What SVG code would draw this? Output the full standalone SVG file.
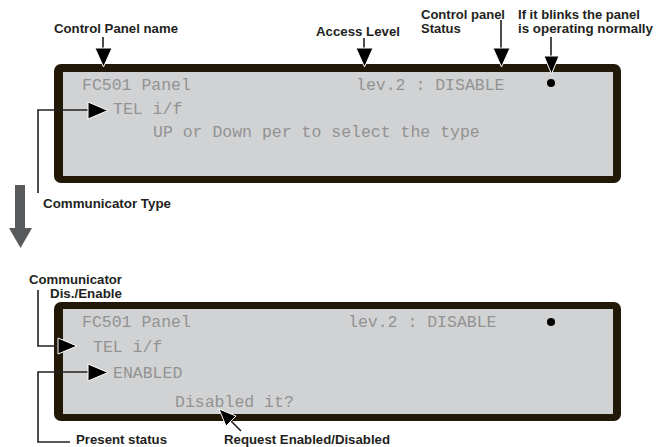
<svg xmlns="http://www.w3.org/2000/svg" width="666" height="447" viewBox="0 0 666 447">
<style>
.lbl{font-family:"Liberation Sans",Arial,sans-serif;font-weight:bold;font-size:13px;fill:#231f20}
.lcd{font-family:"Liberation Mono","DejaVu Sans Mono",monospace;font-size:16.5px;fill:#929292}
.frame{fill:#221808}
.screen{fill:#d1d2d4}
.ln{fill:none;stroke:#231f20;stroke-width:1.6}
.head{fill:#000;stroke:#fff;stroke-width:1}
</style>
<rect width="666" height="447" fill="#fff"/>

<g id="panel1">
  <rect class="frame" x="54" y="64" width="567" height="119" rx="7"/>
  <rect class="screen" x="63" y="72" width="550" height="104"/>
  <text class="lcd" x="82" y="90">FC501 Panel</text>
  <text class="lcd" x="356" y="90">lev.2 : DISABLE</text>
  <circle cx="551" cy="83" r="4" fill="#000"/>
  <text class="lcd" x="113" y="114">TEL i/f</text>
  <text class="lcd" x="153" y="137">UP or Down per to select the type</text>
</g>

<g id="panel2">
  <rect class="frame" x="54" y="302" width="567" height="119" rx="7"/>
  <rect class="screen" x="63" y="309" width="550" height="105"/>
  <text class="lcd" x="82" y="327">FC501 Panel</text>
  <text class="lcd" x="348" y="327">lev.2 : DISABLE</text>
  <circle cx="551" cy="322" r="4" fill="#000"/>
  <text class="lcd" x="93" y="352">TEL i/f</text>
  <text class="lcd" x="113" y="378">ENABLED</text>
  <text class="lcd" x="175" y="407">Disabled it?</text>
</g>

<g id="labels">
  <text class="lbl" x="54" y="33" textLength="124" lengthAdjust="spacingAndGlyphs">Control Panel name</text>
  <text class="lbl" x="316" y="36" textLength="84" lengthAdjust="spacingAndGlyphs">Access Level</text>
  <text class="lbl" x="421" y="19" textLength="84" lengthAdjust="spacingAndGlyphs">Control panel</text>
  <text class="lbl" x="421" y="33">Status</text>
  <text class="lbl" x="518" y="19" textLength="122" lengthAdjust="spacingAndGlyphs">If it blinks the panel</text>
  <text class="lbl" x="518" y="33" textLength="135" lengthAdjust="spacingAndGlyphs">is operating normally</text>
  <text class="lbl" x="43" y="208" textLength="128" lengthAdjust="spacingAndGlyphs">Communicator Type</text>
  <text class="lbl" x="29" y="284" textLength="93" lengthAdjust="spacingAndGlyphs">Communicator</text>
  <text class="lbl" x="50" y="298" textLength="72" lengthAdjust="spacingAndGlyphs">Dis./Enable</text>
  <text class="lbl" x="76" y="444" textLength="91" lengthAdjust="spacingAndGlyphs">Present status</text>
  <text class="lbl" x="224" y="444" textLength="166" lengthAdjust="spacingAndGlyphs">Request Enabled/Disabled</text>
</g>

<g id="connectors">
  <line class="ln" x1="103" y1="37" x2="103" y2="50"/>
  <polygon class="head" points="95,48 112,48 103.5,67"/>
  <line class="ln" x1="364" y1="38" x2="364" y2="50"/>
  <polygon class="head" points="356,48 373,48 364.5,67"/>
  <line class="ln" x1="501" y1="20" x2="501" y2="50"/>
  <polygon class="head" points="493,48 510,48 501.5,67"/>
  <line class="ln" x1="551" y1="37" x2="551" y2="58"/>
  <polygon class="head" points="544,56 559,56 551.5,74"/>

  <polyline class="ln" points="38,193 38,110 90,110"/>
  <polygon class="head" points="88,102 88,119 108,110.5"/>

  <rect x="15" y="185" width="10" height="44" fill="#58595b"/>
  <polygon points="9,228 32,228 20.5,248" fill="#58595b"/>

  <polyline class="ln" points="38,290 38,346 60,346"/>
  <polygon class="head" points="58,338 58,354 77,346"/>

  <polyline class="ln" points="70,442 38,442 38,372 90,372"/>
  <polygon class="head" points="88,364 88,381 108,372.5"/>

  <line class="ln" x1="241" y1="431" x2="226" y2="416"/>
  <polygon class="head" points="219,409 236,416 226,426"/>
</g>
</svg>
